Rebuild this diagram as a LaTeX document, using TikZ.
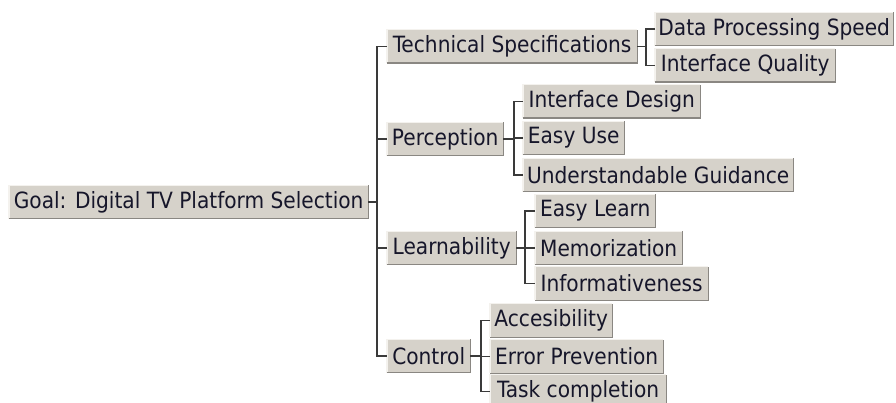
\documentclass[tikz,border=0pt]{standalone}
\usepackage{fontspec}
\setmainfont{DejaVu Sans Condensed}
\definecolor{btnface}{HTML}{D6D2CA}
\definecolor{btnhi}{HTML}{F4F2EE}
\definecolor{btnsh}{HTML}{8A8782}
\definecolor{inkc}{HTML}{16162A}
\definecolor{linkc}{HTML}{3A3A3A}
\tikzset{
  btn/.style={anchor=west, fill=btnface, draw=none, minimum height=33pt,
    inner xsep=2pt, inner ysep=0pt, text=inkc,
    font=\fontsize{22.4}{26}\selectfont},
  link/.style={draw=linkc, line width=1.1pt},
  hiedge/.style={draw=btnhi, line width=1.2pt},
  shedge/.style={draw=btnsh, line width=1.4pt},
}
\begin{document}
\begin{tikzpicture}[x=1pt,y=-1pt]
\useasboundingbox (0,0) rectangle (896,403);

% root and first level
\node[btn, minimum width=359pt] (goal)  at (9,202)   {Goal: Digital TV Platform Selection};
\node[btn, minimum width=250pt] (tech)  at (387,46.5) {Technical Specifications};
\node[btn, minimum width=116pt] (perc)  at (387,139) {Perception};
\node[btn, minimum width=129pt] (learn) at (387,248) {Learnability};
\node[btn, minimum width=83pt]  (ctrl)  at (387,356) {Control};

% second level
\node[btn, minimum width=238pt] (dps) at (655,29)   {Data Processing Speed};
\node[btn, minimum width=180pt] (iq)  at (655,65.5) {Interface Quality};

\node[btn, minimum width=177pt] (idz) at (523,101.5) {Interface Design};
\node[btn, minimum width=101pt] (eu)  at (523,138)   {Easy Use};
\node[btn, minimum width=270pt] (ug)  at (523,175)   {Understandable Guidance};

\node[btn, minimum width=120pt] (el)  at (535,211)   {Easy Learn};
\node[btn, minimum width=147pt] (mem) at (535,248)   {Memorization};
\node[btn, minimum width=173pt] (inf) at (535,283.5) {Informativeness};

\node[btn, minimum width=122pt] (acc) at (490,320.5) {Accesibility};
\node[btn, minimum width=173pt] (ep)  at (490,356.5) {Error Prevention};
\node[btn, minimum width=176pt] (tc)  at (490,391.5) {Task completion};

% raised button edges
\foreach \n in {goal,tech,perc,learn,ctrl,dps,iq,idz,eu,ug,el,mem,inf,acc,ep,tc}{
  \draw[hiedge] (\n.south west) -- (\n.north west) -- (\n.north east);
  \draw[shedge] (\n.south west) -- (\n.south east) -- (\n.north east);
}

% x positions of the vertical bars
\coordinate (tk) at (377,0);
\coordinate (tv) at (646,0);
\coordinate (pv) at (514,0);
\coordinate (lv) at (525,0);
\coordinate (cv) at (481,0);

% trunk
\draw[link] (goal.east) -- (goal.east -| tk);
\draw[link] (tech.west) -- (tech.west -| tk) -- (ctrl.west -| tk) -- (ctrl.west);
\draw[link] (perc.west -| tk) -- (perc.west);
\draw[link] (learn.west -| tk) -- (learn.west);

% Technical Specifications
\draw[link] (tech.east) -- (tech.east -| tv);
\draw[link] (dps.west) -- (dps.west -| tv) -- (iq.west -| tv) -- (iq.west);

% Perception
\draw[link] (perc.east) -- (perc.east -| pv);
\draw[link] (idz.west) -- (idz.west -| pv) -- (ug.west -| pv) -- (ug.west);
\draw[link] (eu.west -| pv) -- (eu.west);

% Learnability
\draw[link] (learn.east) -- (learn.east -| lv);
\draw[link] (el.west) -- (el.west -| lv) -- (inf.west -| lv) -- (inf.west);
\draw[link] (mem.west -| lv) -- (mem.west);

% Control
\draw[link] (ctrl.east) -- (ctrl.east -| cv);
\draw[link] (acc.west) -- (acc.west -| cv) -- (tc.west -| cv) -- (tc.west);
\draw[link] (ep.west -| cv) -- (ep.west);
\end{tikzpicture}
\end{document}
